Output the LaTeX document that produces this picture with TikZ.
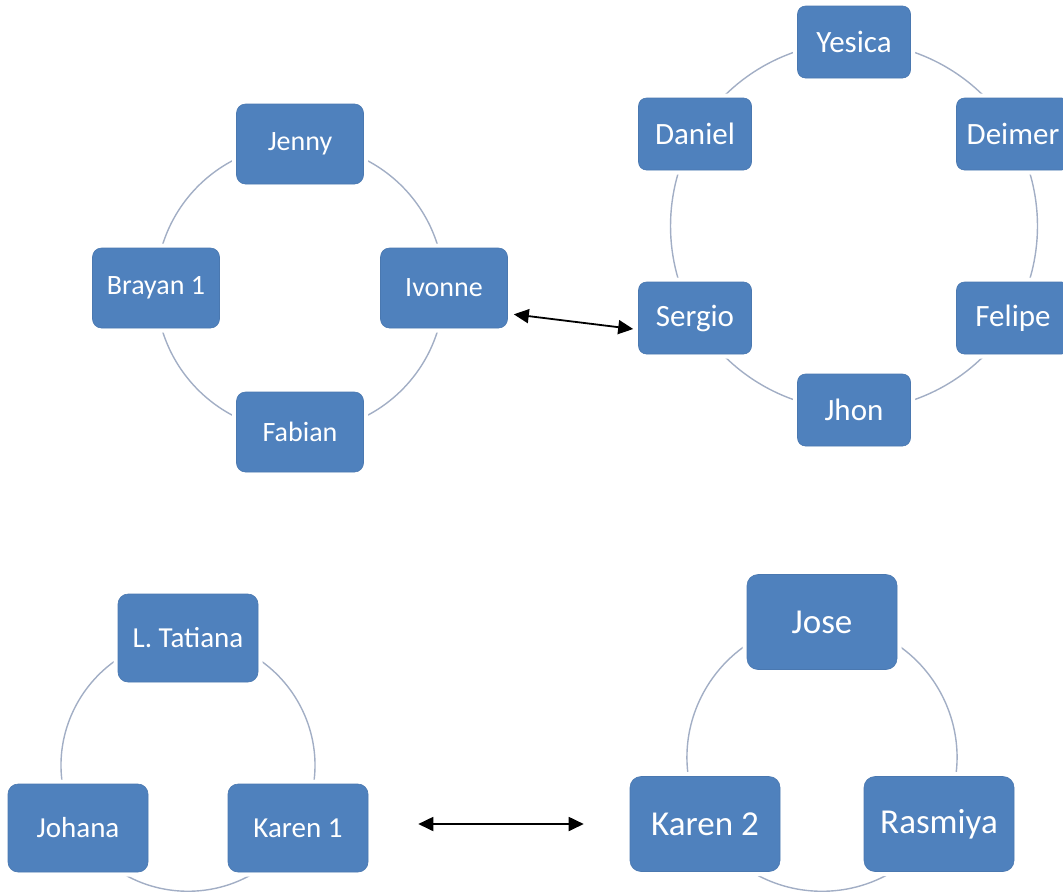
\documentclass[tikz,border=0pt]{standalone}
\usepackage{fontspec}
\setmainfont{Carlito}
\usepackage{tikz}
\usetikzlibrary{arrows.meta,backgrounds}
\definecolor{CycleBlue}{HTML}{4F81BD}
\definecolor{CycleEdge}{HTML}{4A78B0}
\definecolor{ArcGrey}{HTML}{A2AEC5}

\begin{document}
\begin{tikzpicture}[x=1pt,y=1pt,
    member/.style={rectangle,fill=CycleBlue,draw=CycleEdge,line width=0.6pt,
      text=white,inner sep=0pt,preaction={draw=white,line width=9pt}},
    groupone/.style={member,rounded corners=9pt,minimum width=127pt,minimum height=80pt,
      font=\fontsize{28}{32}\selectfont},
    grouptwo/.style={member,rounded corners=8pt,minimum width=113pt,minimum height=72pt,
      font=\fontsize{31}{34}\selectfont},
    groupthree/.style={member,rounded corners=10pt,minimum width=140pt,minimum height=88pt,
      font=\fontsize{29}{32}\selectfont},
    groupfour/.style={member,rounded corners=11pt,minimum width=150pt,minimum height=95pt,
      font=\fontsize{35}{38}\selectfont},
    ring/.style={draw=ArcGrey,line width=1.4pt},
    link/.style={{Triangle[length=15pt,width=14pt]}-{Triangle[length=15pt,width=14pt]},
      line width=1.8pt,black}]
  \useasboundingbox (0,0) rectangle (1063,-895);

  % first cycle, four people
  \node[groupone] (jenny)  at (300,-144) {Jenny};
  \node[groupone] (ivonne) at (444,-288) {Ivonne};
  \node[groupone] (fabian) at (300,-432) {Fabian};
  \node[groupone] (brayan) at (156,-288) {Brayan 1};

  % second cycle, six people
  \node[grouptwo] (yesica) at (854,-42)  {Yesica};
  \node[grouptwo] (deimer) at (1013,-134) {Deimer};
  \node[grouptwo] (felipe) at (1013,-318) {Felipe};
  \node[grouptwo] (jhon)   at (854,-410) {Jhon};
  \node[grouptwo] (sergio) at (695,-318) {Sergio};
  \node[grouptwo] (daniel) at (695,-134) {Daniel};

  % third cycle
  \node[groupthree] (tatiana) at (188,-638) {L. Tatiana};
  \node[groupthree] (karenone) at (298,-828) {Karen 1};
  \node[groupthree] (johana) at (78,-828) {Johana};

  % fourth cycle
  \node[groupfour] (jose) at (822,-622) {Jose};
  \node[groupfour] (rasmiya) at (939,-824) {Rasmiya};
  \node[groupfour] (karentwo) at (705,-824) {Karen 2};

  \begin{scope}[on background layer]
    \draw[ring] (jenny.center) to[bend left=45] (ivonne.center)
      to[bend left=45] (fabian.center) to[bend left=45] (brayan.center)
      to[bend left=45] (jenny.center);
    \draw[ring,looseness=0.91] (yesica.center) to[bend left=30] (deimer.center)
      to[bend left=30] (felipe.center) to[bend left=30] (jhon.center)
      to[bend left=30] (sergio.center) to[bend left=30] (daniel.center)
      to[bend left=30] (yesica.center);
    \draw[ring,looseness=1.135] (tatiana.center) to[bend left=60] (karenone.center)
      to[bend left=60] (johana.center) to[bend left=60] (tatiana.center);
    \draw[ring,looseness=1.135] (jose.center) to[bend left=60] (rasmiya.center)
      to[bend left=60] (karentwo.center) to[bend left=60] (jose.center);
  \end{scope}

  % exchanges between the cycles
  \coordinate (topleft)  at ([shift={(6,14)}]ivonne.south east);
  \coordinate (topright) at ([shift={(-5,-11)}]sergio.west);
  \draw[link] (topleft) -- (topright);
  \coordinate (lowleft)  at ([shift={(50,4)}]karenone.east);
  \coordinate (lowright) at ([shift={(-46,0)}]karentwo.west);
  \draw[link] (lowleft) -- (lowright);
\end{tikzpicture}
\end{document}
